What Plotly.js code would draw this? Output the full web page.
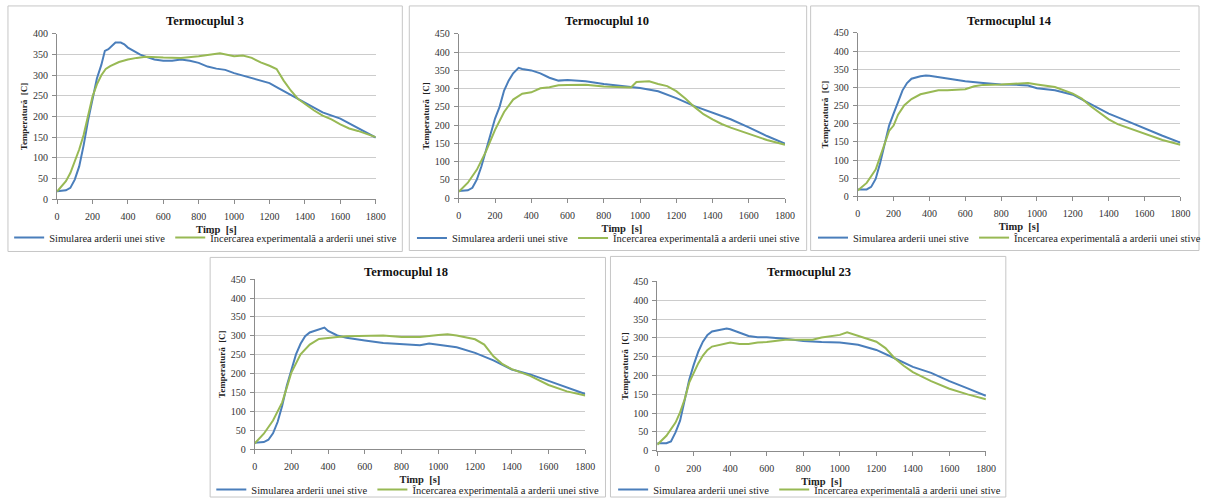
<!DOCTYPE html>
<html>
<head>
<meta charset="utf-8">
<script src="https://cdn.plot.ly/plotly-3.0.1.min.js"></script>
<style>
  html, body { margin: 0; padding: 0; background: #ffffff; }
  #chart { width: 1206px; height: 504px; }
</style>
</head>
<body>
<div id="chart"></div>
<script>
// ---------------- DATA ----------------
const seriesNames = ['Simularea arderii unei stive', 'Încercarea experimentală a arderii unei stive'];
const panelTitles = ['Termocuplul 3', 'Termocuplul 10', 'Termocuplul 14', 'Termocuplul 18', 'Termocuplul 23'];
const xTickValues = [0, 200, 400, 600, 800, 1000, 1200, 1400, 1600, 1800];

// Termocuplul 3
const tSim3 = [0,50,75,100,125,150,175,200,225,250,270,290,310,330,360,380,400,430,470,500,550,600,650,700,750,800,850,900,950,1000,1050,1100,1150,1200,1250,1300,1350,1400,1450,1500,1600,1700,1800];
const sim3  = [19,21,27,47,79,130,190,245,292,325,359,363,371,379,379,375,367,359,350,345,338,335,335,338,335,330,321,316,313,305,299,293,287,281,269,257,245,233,222,210,195,172,149];
const tExp3 = [0,50,75,100,125,150,175,200,225,250,275,300,350,400,450,500,600,700,800,900,920,1000,1050,1100,1150,1200,1240,1280,1320,1360,1400,1450,1500,1550,1600,1650,1700,1750,1800];
const exp3  = [18,43,63,90,120,155,203,248,278,300,315,322,332,338,342,345,343,342,346,351,353,346,348,342,331,323,315,287,263,243,230,215,202,193,181,171,165,158,150];

// Termocuplul 10
const tSim10 = [0,50,75,100,125,150,175,200,225,250,275,300,330,350,400,450,500,550,600,700,800,900,1000,1100,1200,1300,1400,1500,1600,1700,1800];
const sim10  = [19,21,28,51,87,132,178,218,250,295,322,342,357,354,350,342,330,322,324,320,313,307,302,293,274,252,234,216,194,170,149];
const tExp10 = [0,50,100,150,200,250,300,350,400,450,500,550,600,700,800,900,950,980,1050,1100,1150,1200,1250,1300,1350,1400,1450,1500,1600,1700,1800];
const exp10  = [17,42,78,128,187,236,270,286,290,301,304,309,310,311,306,303,303,318,320,313,307,293,273,250,230,216,203,193,176,159,146];

// Termocuplul 14
const tSim14 = [0,50,75,100,125,150,175,200,225,250,275,300,350,380,400,450,500,550,600,700,800,900,950,1000,1100,1200,1300,1400,1500,1600,1700,1800];
const sim14  = [19,19,26,48,92,140,195,228,260,292,312,324,331,333,332,328,323,319,317,312,308,307,305,298,292,280,254,228,208,187,167,148];
const tExp14 = [0,50,100,150,175,200,225,260,300,350,400,450,500,550,600,650,700,800,900,950,1000,1100,1200,1250,1300,1400,1450,1500,1600,1700,1800];
const exp14  = [16,37,74,148,180,195,225,251,268,281,287,292,292,294,295,303,307,308,312,312,308,301,283,269,248,212,199,190,172,155,142];

// Termocuplul 18
const tSim18 = [0,50,75,100,125,150,175,200,225,250,275,300,350,380,400,450,500,550,600,700,800,900,950,1000,1100,1200,1300,1400,1500,1600,1700,1800];
const sim18  = [17,19,25,42,72,115,168,212,251,279,299,309,316,322,313,301,295,291,288,281,279,275,280,277,270,255,235,211,198,181,163,146];
const tExp18 = [0,50,100,125,150,175,200,250,300,350,400,450,500,600,700,800,900,1000,1050,1100,1150,1200,1250,1300,1350,1400,1500,1600,1700,1800];
const exp18  = [15,41,76,98,124,163,203,251,277,292,295,297,299,301,301,297,297,302,304,301,295,291,277,246,225,212,194,170,153,142];

// Termocuplul 23
const tSim23 = [0,50,75,100,125,150,175,200,225,250,275,300,350,380,400,450,500,550,600,700,800,900,1000,1100,1200,1300,1400,1500,1600,1700,1800];
const sim23  = [20,20,25,49,80,137,189,229,264,290,308,317,321,325,323,314,305,302,302,298,292,289,288,282,268,246,223,207,185,166,146];
const tExp23 = [0,50,100,125,150,175,200,225,250,275,300,350,400,450,500,550,600,700,800,850,900,950,1000,1040,1100,1150,1200,1250,1300,1350,1400,1500,1600,1700,1800];
const exp23  = [16,40,75,102,137,181,207,233,253,268,277,283,288,284,284,288,289,295,296,295,301,305,308,315,306,299,290,273,246,226,209,185,165,150,137];

const yMaxima = [400, 450, 450, 450, 450];

// ---------------- LAYOUT (pixel geometry of each panel) ----------------
const W = 1206, H = 504;
const geom = [
  { xd:[57.3,377.3],  yd:[201,34.3],   box:[8,6,404,254],     title:[206,21],    leg:[206.5,240] },
  { xd:[460.7,788.3], yd:[200,34.3],   box:[411,6,810,253],   title:[610,21],    leg:[611,240.5] },
  { xd:[861.3,1185.3],yd:[198.3,33.3], box:[814,6,1204,253],  title:[1014,21],   leg:[1014,240] },
  { xd:[255.7,587.7], yd:[453.7,282],  box:[211,260,608,502], title:[408,274.5], leg:[409.5,494.5] },
  { xd:[660,990],     yd:[455.3,284.3],box:[613,259,1010,502],title:[812,274.5], leg:[813,494.5] }
];
const simT = [tSim3, tSim10, tSim14, tSim18, tSim23];
const simV = [sim3, sim10, sim14, sim18, sim23];
const expT = [tExp3, tExp10, tExp14, tExp18, tExp23];
const expV = [exp3, exp10, exp14, exp18, exp23];

const FONT = 'Liberation Serif';
const BLUE = '#4a7ebb', GREEN = '#98b954';
const px = x => x / W, py = y => 1 - y / H;

const data = [];
const layout = {
  width: W, height: H,
  margin: { l: 0, r: 0, t: 0, b: 0 },
  paper_bgcolor: '#ffffff', plot_bgcolor: '#ffffff',
  showlegend: true,
  font: { family: FONT, color: '#222222' },
  shapes: [], annotations: []
};

geom.forEach((g, i) => {
  const n = i + 1;
  const xa = n === 1 ? 'x' : 'x' + n, ya = n === 1 ? 'y' : 'y' + n;
  const legName = n === 1 ? 'legend' : 'legend' + n;
  data.push({
    x: simT[i], y: simV[i], xaxis: xa, yaxis: ya, type: 'scatter', mode: 'lines',
    name: seriesNames[0], legend: legName, line: { color: BLUE, width: 2 }
  });
  data.push({
    x: expT[i], y: expV[i], xaxis: xa, yaxis: ya, type: 'scatter', mode: 'lines',
    name: seriesNames[1], legend: legName, line: { color: GREEN, width: 2 }
  });
  layout[n === 1 ? 'xaxis' : 'xaxis' + n] = {
    domain: [px(g.xd[0]), px(g.xd[1])], anchor: ya,
    range: [0, 1800], tickvals: xTickValues, showgrid: false, zeroline: false,
    showline: true, linecolor: '#8c8c8c', linewidth: 1,
    ticks: 'outside', ticklen: 4, tickcolor: '#8c8c8c', ticklabelstandoff: 4,
    tickfont: { family: FONT, size: 10, color: '#333333' },
    title: { text: '<b>Timp  [s]</b>', font: { family: FONT, size: 10.5, color: '#222222' }, standoff: 4 },
    fixedrange: true
  };
  layout[n === 1 ? 'yaxis' : 'yaxis' + n] = {
    domain: [py(g.yd[0]), py(g.yd[1])], anchor: xa,
    range: [0, yMaxima[i]], dtick: 50, showgrid: true, gridcolor: '#cccccc', gridwidth: 1, zeroline: false,
    showline: true, linecolor: '#8c8c8c', linewidth: 1,
    ticks: 'outside', ticklen: 4, tickcolor: '#8c8c8c', ticklabelstandoff: 2,
    tickfont: { family: FONT, size: 10, color: '#333333' },
    title: { text: '<b>Temperatură  [C]</b>', font: { family: FONT, size: 9, color: '#222222' }, standoff: 3 },
    fixedrange: true
  };
  layout[legName] = {
    orientation: 'h', x: px(g.leg[0]), xanchor: 'center', y: py(g.leg[1]), yanchor: 'middle',
    bgcolor: 'rgba(0,0,0,0)', borderwidth: 0, itemwidth: 30, traceorder: 'normal',
    font: { family: FONT, size: 10.5, color: '#222222' }
  };
  layout.shapes.push({
    type: 'rect', xref: 'paper', yref: 'paper',
    x0: px(g.box[0]), x1: px(g.box[2]), y0: py(g.box[3]), y1: py(g.box[1]),
    line: { color: '#c6c6c6', width: 1 }, fillcolor: 'rgba(0,0,0,0)', layer: 'below'
  });
  layout.annotations.push({
    xref: 'paper', yref: 'paper', x: px(g.title[0]), y: py(g.title[1]),
    xanchor: 'center', yanchor: 'middle', showarrow: false,
    text: '<b>' + panelTitles[i] + '</b>',
    font: { family: FONT, size: 12.5, color: '#111111' }
  });
});

Plotly.newPlot('chart', data, layout, { staticPlot: true, displayModeBar: false });
</script>
</body>
</html>
